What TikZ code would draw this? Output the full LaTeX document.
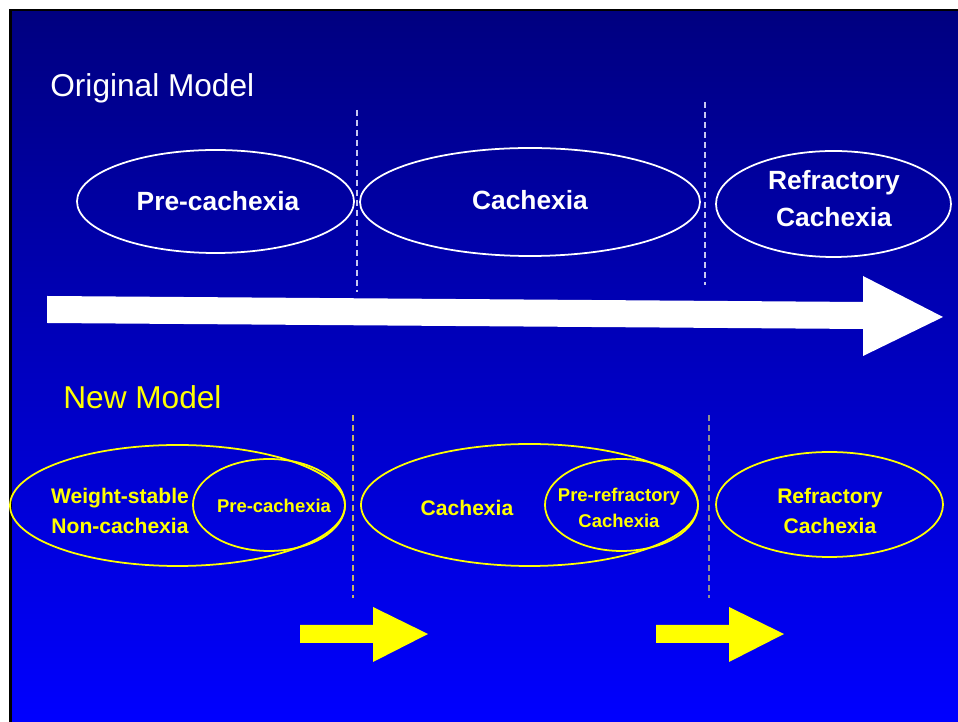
\documentclass[tikz,border=0pt]{standalone}
\usepackage{fontspec}
\setmainfont{Liberation Sans}
\usepackage{xcolor}
\usetikzlibrary{positioning}
\definecolor{slidetop}{RGB}{0, 0, 128}
\definecolor{slidebottom}{RGB}{0, 0, 255}
\definecolor{newyellow}{RGB}{255, 255, 0}
\definecolor{olddash}{RGB}{200, 200, 240}
\definecolor{newdash}{RGB}{200, 180, 100}
\definecolor{greydash}{RGB}{144, 144, 144}
\tikzstyle{modeltitle} = [
	inner sep=0pt,
	anchor=west,
	font=\fontsize{18}{22}\selectfont
]
\tikzstyle{oldstage} = [
	draw=white,
	line width=1pt
]
\tikzstyle{newstage} = [
	draw=newyellow,
	line width=1pt
]
\tikzstyle{oldlabel} = [
	inner sep=0pt,
	text=white,
	align=center,
	font=\bfseries\fontsize{15}{21}\selectfont
]
\tikzstyle{newlabel} = [
	inner sep=0pt,
	text=newyellow,
	align=center,
	font=\bfseries\fontsize{12}{17}\selectfont
]
\tikzstyle{sublabel} = [
	inner sep=0pt,
	text=newyellow,
	align=center,
	font=\bfseries\fontsize{10.5}{14.7}\selectfont
]
\tikzstyle{divider} = [
	line width=0.6pt,
	dash pattern=on 0.12cm off 0.08cm
]

\begin{document}
\begin{tikzpicture}[x=0.02cm, y=-0.02cm]

	%
	% Slide background
	\useasboundingbox (0,0) rectangle (958,722);
	\fill[white] (0,0) rectangle (958,722);
	\fill[black] (9,9) rectangle (958,722);
	\shade[top color=slidetop, bottom color=slidebottom] (12,12) rectangle (958,722);

	%
	% Original model
	\node[modeltitle, text=white] (oldtitle) at (50,88) {Original Model};

	\draw[oldstage] (215.5,201.5) ellipse [x radius=138.5, y radius=51.5];
	\draw[oldstage] (530,202) ellipse [x radius=170, y radius=54];
	\draw[oldstage] (833.5,204) ellipse [x radius=117.5, y radius=53];

	\node[oldlabel] (oldpre) at (218,201) {Pre-cachexia};
	\node[oldlabel] (oldcach) at (530,200) {Cachexia};
	\node[oldlabel] (oldrefr) at (834,199) {Refractory\\Cachexia};

	\coordinate (olddivAtop) at (357,110);
	\coordinate (olddivAbot) at (357,292);
	\coordinate (olddivBtop) at (705,102);
	\coordinate (olddivBbot) at (705,285);
	\draw[divider, draw=olddash] (olddivAtop) -- (olddivAbot);
	\draw[divider, draw=olddash] (olddivBtop) -- (olddivBbot);

	\fill[white] (47,296) -- (863,302) -- (863,276) -- (943,317)
		-- (863,356) -- (863,329) -- (47,323) -- cycle;

	%
	% New model
	\node[modeltitle, text=newyellow] (newtitle) at (63,397) {New Model};

	\draw[newstage] (177.5,505.5) ellipse [x radius=167.5, y radius=60.5];
	\draw[newstage] (269,505) ellipse [x radius=76, y radius=46];
	\draw[newstage] (529.5,505) ellipse [x radius=168.5, y radius=61];
	\draw[newstage] (621.5,505) ellipse [x radius=76.5, y radius=46];
	\draw[newstage] (829.5,504.5) ellipse [x radius=113.5, y radius=52.5];

	\node[newlabel] (newstable) at (120,511) {Weight-stable\\Non-cachexia};
	\node[sublabel] (newpre) at (274,506) {Pre-cachexia};
	\node[newlabel] (newcach) at (467,508) {Cachexia};
	\node[sublabel] (newprerefr) at (619,508) {Pre-refractory\\Cachexia};
	\node[newlabel] (newrefr) at (830,511) {Refractory\\Cachexia};

	\coordinate (newdivAtop) at (353,415);
	\coordinate (newdivAbot) at (353,598);
	\coordinate (newdivBtop) at (709,415);
	\coordinate (newdivBbot) at (709,598);
	\draw[divider, draw=newdash] (newdivAtop) -- (newdivAbot);
	\draw[divider, draw=greydash] (newdivBtop) -- (newdivBbot);

	\fill[newyellow] (300,625) -- (373,625) -- (373,607) -- (428,634)
		-- (373,662) -- (373,643) -- (300,643) -- cycle;
	\fill[newyellow] (656,625) -- (729,625) -- (729,607) -- (784,634)
		-- (729,662) -- (729,643) -- (656,643) -- cycle;

\end{tikzpicture}
\end{document}
